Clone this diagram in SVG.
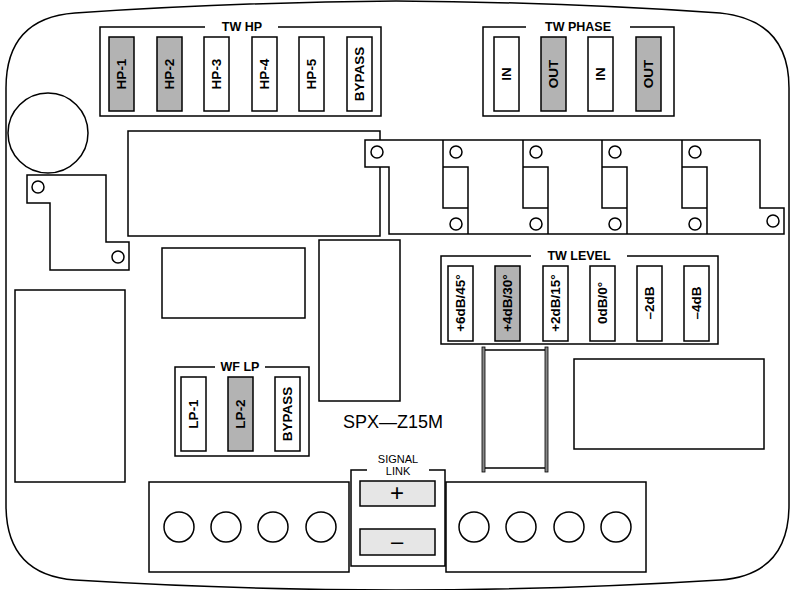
<svg xmlns="http://www.w3.org/2000/svg" width="792" height="590" viewBox="0 0 792 590">
<style>
.o{fill:#fff;stroke:#000;stroke-width:1.5}
.n{fill:none;stroke:#000;stroke-width:1.5}
.sw{fill:#fff;stroke:#000;stroke-width:1.5}
.on{fill:#b3b3b3;stroke:#000;stroke-width:1.5}
.t{font-family:"Liberation Sans",Arial,sans-serif;font-weight:bold;font-size:13.5px;text-anchor:middle;dominant-baseline:central}
.h{font-family:"Liberation Sans",Arial,sans-serif;font-weight:bold;font-size:12.5px;text-anchor:middle}
</style>
<rect width="792" height="590" fill="#fff"/>
<g id="board"><path class="o" d="M6,88 Q6,18 75,13 Q240,2 396,1 Q560,2 720,13 Q789,20 789,88 L789,505 Q789,575 720,580 Q560,590 396,590 Q240,590 75,580 Q6,575 6,505 Z"/></g>
<g id="parts">
<circle class="o" cx="48" cy="133" r="40"/>
<path class="o" d="M27,175 H106 V242 H129 V270 H50 V203 H27 Z"/>
<circle class="o" cx="38" cy="187" r="6"/><circle class="o" cx="118" cy="257" r="6"/>
<rect class="o" x="128" y="131" width="252" height="105"/>
<rect class="o" x="162" y="248" width="143" height="70"/>
<rect class="o" x="319" y="240" width="81" height="161"/>
<rect class="o" x="15" y="290" width="110" height="192"/>
<path class="o" d="M365,140 H760 V208 H784 V234 H389 V167 H365 Z"/>
<path class="n" d="M443,140V167H468V208H443V167M468,208V234M523,140V167H548V208H523V167M548,208V234M602,140V167H627V208H602V167M627,208V234M682,140V167H707V208H682V167M707,208V234"/>
<circle class="o" cx="377" cy="152" r="6"/>
<circle class="o" cx="456" cy="152" r="6"/><circle class="o" cx="456" cy="224" r="6"/>
<circle class="o" cx="536" cy="152" r="6"/><circle class="o" cx="536" cy="224" r="6"/>
<circle class="o" cx="615" cy="152" r="6"/><circle class="o" cx="615" cy="224" r="6"/>
<circle class="o" cx="695" cy="152" r="6"/><circle class="o" cx="695" cy="224" r="6"/>
<circle class="o" cx="773" cy="221" r="6"/>
<rect class="o" x="483" y="350" width="64" height="118"/>
<rect x="482" y="347" width="3" height="125" fill="#888" stroke="#000" stroke-width="0.8"/>
<rect x="545" y="347" width="3" height="125" fill="#888" stroke="#000" stroke-width="0.8"/>
<rect class="o" x="574" y="359" width="190" height="90"/>
<text x="393" y="428" font-family="'Liberation Sans',Arial,sans-serif" font-size="18" text-anchor="middle">SPX—Z15M</text>
</g>
<g id="twhp">
<path class="n" d="M205,27H100V116H381V27H278"/>
<text class="h" x="242" y="31">TW HP</text>
<rect class="on" x="109" y="37" width="25" height="74"/><text class="t" transform="translate(121.5,74) rotate(-90)">HP-1</text>
<rect class="on" x="157" y="37" width="25" height="74"/><text class="t" transform="translate(169.5,74) rotate(-90)">HP-2</text>
<rect class="sw" x="204" y="37" width="25" height="74"/><text class="t" transform="translate(216.5,74) rotate(-90)">HP-3</text>
<rect class="sw" x="252" y="37" width="25" height="74"/><text class="t" transform="translate(264.5,74) rotate(-90)">HP-4</text>
<rect class="sw" x="299" y="37" width="25" height="74"/><text class="t" transform="translate(311.5,74) rotate(-90)">HP-5</text>
<rect class="sw" x="347" y="37" width="25" height="74"/><text class="t" transform="translate(359.5,74) rotate(-90)">BYPASS</text>
</g>
<g id="twphase">
<path class="n" d="M526,27H483V116H674V27H630"/>
<text class="h" x="578" y="31">TW PHASE</text>
<rect class="sw" x="494" y="37" width="25" height="74"/><text class="t" transform="translate(506.5,74) rotate(-90)">IN</text>
<rect class="on" x="541" y="37" width="25" height="74"/><text class="t" transform="translate(553.5,74) rotate(-90)">OUT</text>
<rect class="sw" x="588" y="37" width="25" height="74"/><text class="t" transform="translate(600.5,74) rotate(-90)">IN</text>
<rect class="on" x="636" y="37" width="25" height="74"/><text class="t" transform="translate(648.5,74) rotate(-90)">OUT</text>
</g>
<g id="twlevel">
<path class="n" d="M531,256H441V344H718V256H627"/>
<text class="h" x="579" y="260">TW LEVEL</text>
<rect class="sw" x="448" y="266" width="25" height="75"/><text class="t" transform="translate(460.5,303) rotate(-90)">+6dB/45°</text>
<rect class="on" x="495" y="266" width="25" height="75"/><text class="t" transform="translate(507.5,303) rotate(-90)">+4dB/30°</text>
<rect class="sw" x="543" y="266" width="25" height="75"/><text class="t" transform="translate(555.5,303) rotate(-90)">+2dB/15°</text>
<rect class="sw" x="590" y="266" width="25" height="75"/><text class="t" transform="translate(602.5,303) rotate(-90)">0dB/0°</text>
<rect class="sw" x="637" y="266" width="25" height="75"/><text class="t" transform="translate(649.5,303) rotate(-90)">–2dB</text>
<rect class="sw" x="684" y="266" width="25" height="75"/><text class="t" transform="translate(696.5,303) rotate(-90)">–4dB</text>
</g>
<g id="wflp">
<path class="n" d="M215,367H175V456H309V367H265"/>
<text class="h" x="240" y="371">WF LP</text>
<rect class="sw" x="181" y="377" width="25" height="74"/><text class="t" transform="translate(193.5,414) rotate(-90)">LP-1</text>
<rect class="on" x="228" y="377" width="25" height="74"/><text class="t" transform="translate(240.5,414) rotate(-90)">LP-2</text>
<rect class="sw" x="275" y="377" width="25" height="74"/><text class="t" transform="translate(287.5,414) rotate(-90)">BYPASS</text>
</g>
<g id="terminals">
<rect class="o" x="149" y="482" width="200" height="90"/>
<circle class="o" cx="179" cy="527" r="15"/><circle class="o" cx="226" cy="527" r="15"/><circle class="o" cx="273" cy="527" r="15"/><circle class="o" cx="321" cy="527" r="15"/>
<rect class="o" x="446" y="482" width="200" height="90"/>
<circle class="o" cx="474" cy="527" r="15"/><circle class="o" cx="521" cy="527" r="15"/><circle class="o" cx="569" cy="527" r="15"/><circle class="o" cx="616" cy="527" r="15"/>
</g>
<g id="signallink">
<path class="n" d="M367,470H351V566H445V470H429"/>
<text x="398" y="463" font-family="'Liberation Sans',Arial,sans-serif" font-size="11" text-anchor="middle">SIGNAL</text>
<text x="398" y="475" font-family="'Liberation Sans',Arial,sans-serif" font-size="11" text-anchor="middle">LINK</text>
<rect x="360" y="481" width="75" height="25" fill="#e6e6e6" stroke="#000" stroke-width="1.5"/>
<rect x="360" y="529" width="75" height="26" fill="#e6e6e6" stroke="#000" stroke-width="1.5"/>
<text x="397" y="501" font-family="'Liberation Sans',Arial,sans-serif" font-size="24" text-anchor="middle">+</text>
<text x="397" y="549" font-family="'Liberation Sans',Arial,sans-serif" font-size="22" text-anchor="middle">–</text>
</g>
</svg>
